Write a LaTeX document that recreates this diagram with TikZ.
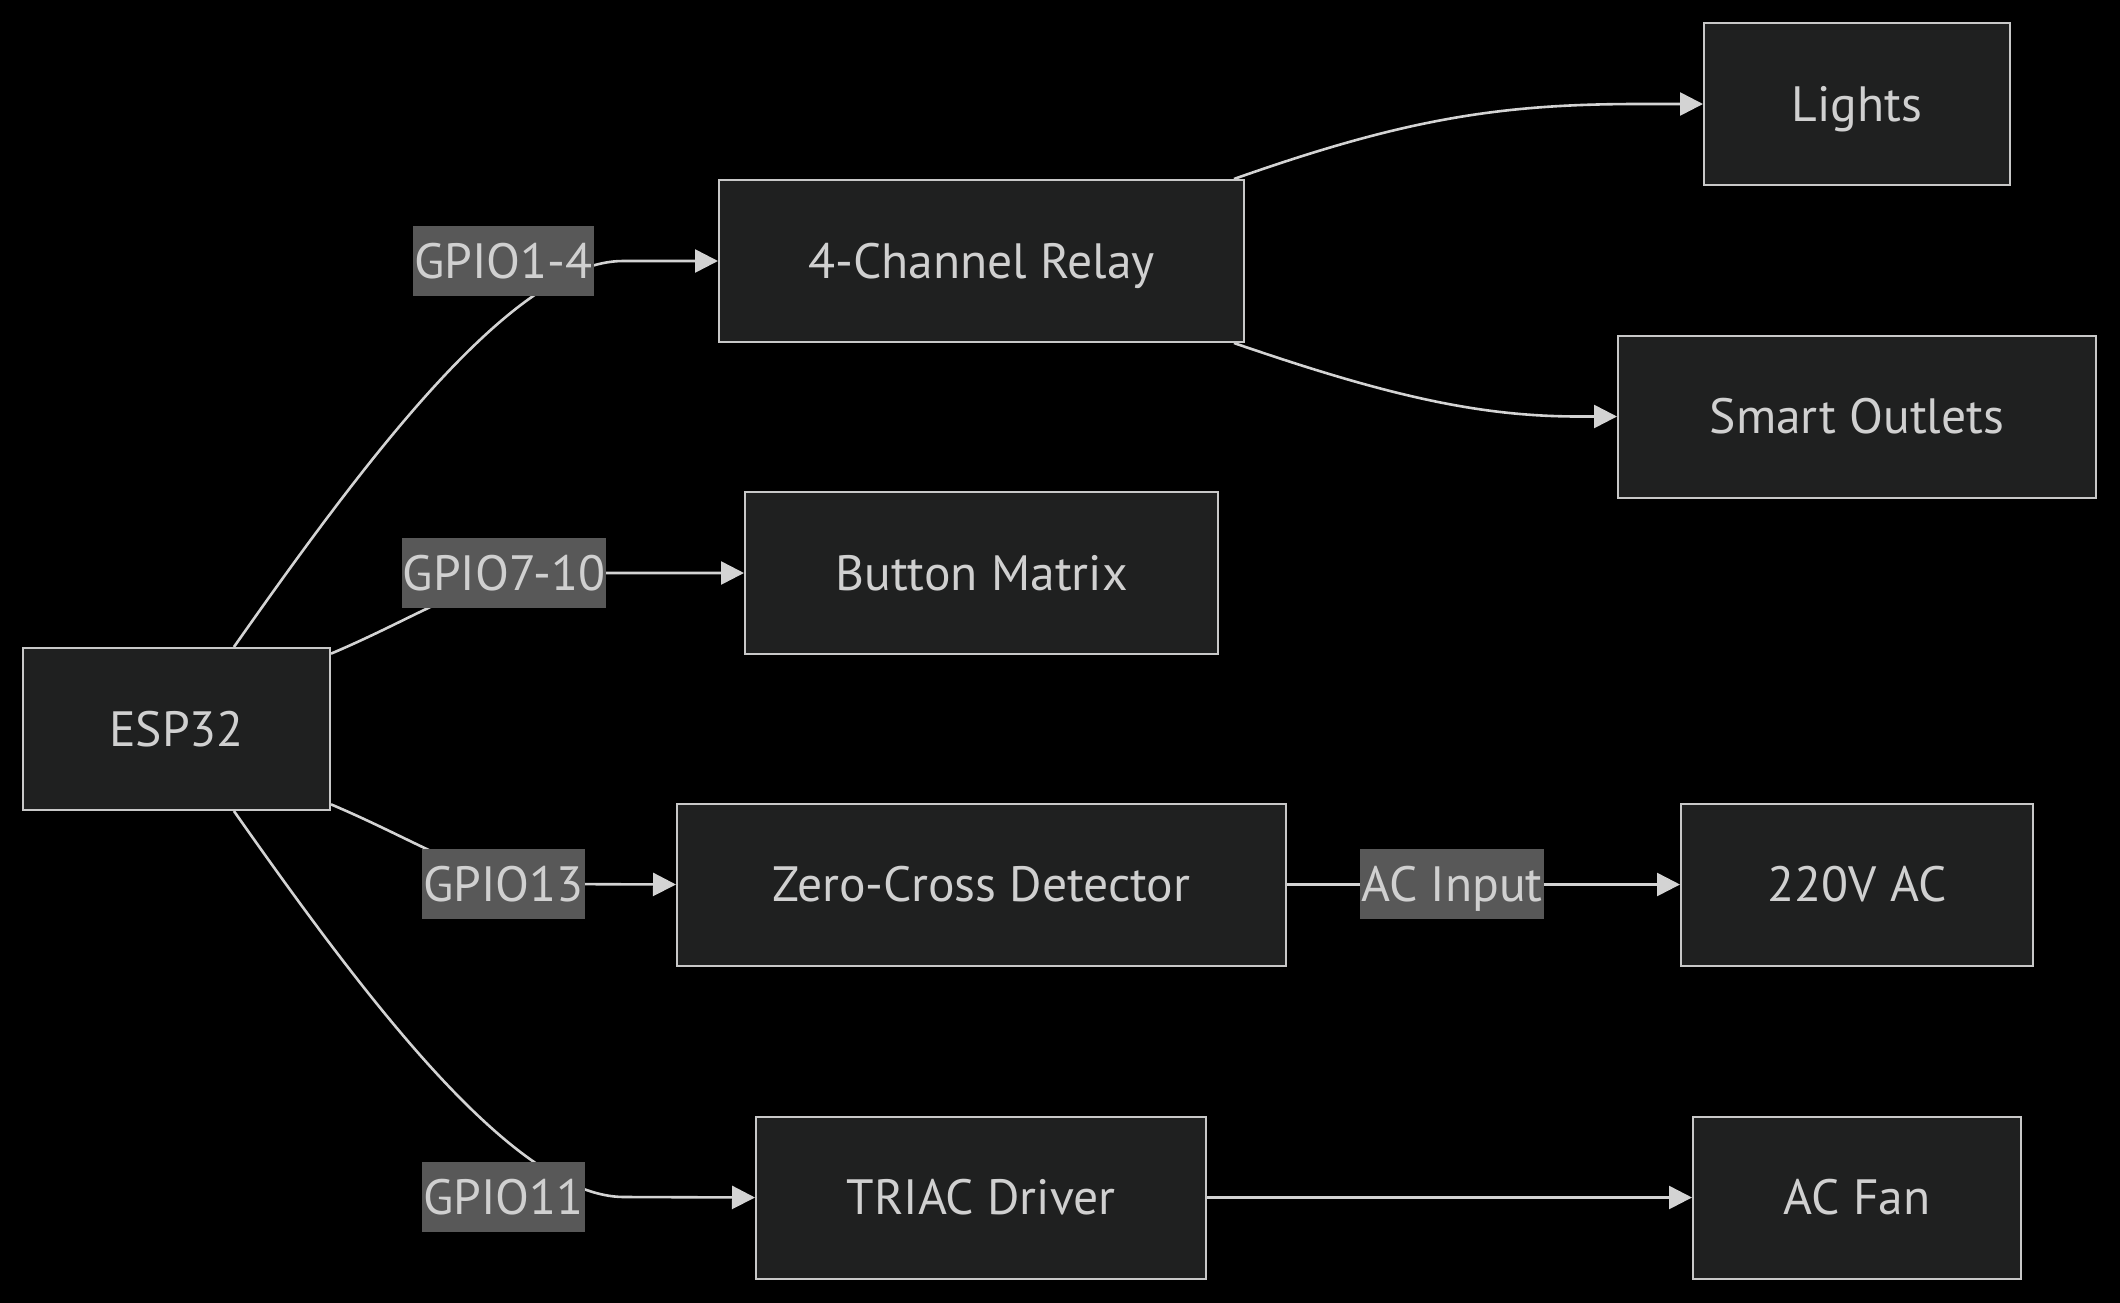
\documentclass[tikz,border=0pt]{standalone}
\usepackage{fontspec}
\setmainfont{PT Sans}
\usetikzlibrary{arrows.meta,calc}
\pgfdeclarelayer{bg}
\pgfdeclarelayer{edges}
\pgfsetlayers{bg,edges,main}
\definecolor{nodefill}{HTML}{1F2020}
\definecolor{nodeline}{HTML}{C8C8C8}
\definecolor{txt}{HTML}{D0D0D0}
\definecolor{lblbg}{HTML}{585858}
\definecolor{edgecol}{HTML}{D3D3D3}
\begin{document}
\begin{tikzpicture}[x=0.5pt,y=-0.5pt,
  box/.style={draw=nodeline, fill=nodefill, line width=1pt, text=txt,
    font=\fontsize{24.8}{28}\selectfont, minimum height=81pt, inner sep=0pt,
    text height=17.4pt, text depth=0pt},
  lbl/.style={fill=lblbg, text=txt, font=\fontsize{24.8}{28}\selectfont,
    minimum height=35pt, inner ysep=0pt, inner xsep=0.5pt,
    text height=17.4pt, text depth=0pt},
  conn/.style={draw=edgecol, line width=1.3pt,
    -{Triangle[length=11.5pt,width=11.5pt]}}]
\useasboundingbox (0,0) rectangle (2120,1302);
\begin{pgfonlayer}{bg}
\fill[black] (-10,-10) rectangle (2130,1312);
\end{pgfonlayer}

% main nodes
\node[box, minimum width=153.5pt] (esp) at (176.5,729) {ESP32};
\node[box, minimum width=262.5pt] (relay) at (981.5,261) {4-Channel Relay};
\node[box, minimum width=153pt] (lights) at (1857,104) {Lights};
\node[box, minimum width=239pt] (outlets) at (1857,416.5) {Smart Outlets};
\node[box, minimum width=236.5pt] (button) at (981.5,573) {Button Matrix};
\node[box, minimum width=304.5pt] (zc) at (981.5,884.5) {Zero-Cross Detector};
\node[box, minimum width=176pt] (ac) at (1857,884.5) {220V AC};
\node[box, minimum width=225pt] (triac) at (981,1197.5) {TRIAC Driver};
\node[box, minimum width=164pt] (fan) at (1857,1197.5) {AC Fan};

% edge labels
\node[lbl] (l1) at (503.5,261) {GPIO1-4};
\node[lbl] (l2) at (504,573) {GPIO7-10};
\node[lbl] (l3) at (503.5,884) {GPIO13};
\node[lbl] (l4) at (503.5,1197) {GPIO11};
\node[lbl] (l5) at (1452,884) {AC Input};

\begin{pgfonlayer}{edges}
\draw[conn] (esp.55) .. controls +(130,-185) and +(-110,0) .. ($(l1.east)+(29,0)$) -- (relay.west);
\draw[conn] (esp.26) .. controls +(90,-38) and +(-70,0) .. ($(l2.center)+(45,0)$) -- (button.west);
\draw[conn] (esp.-26) .. controls +(90,38) and +(-70,0) .. ($(l3.center)+(45,0)$) -- (zc.west);
\draw[conn] (esp.-55) .. controls +(130,185) and +(-110,0) .. ($(l4.east)+(39,0)$) -- (triac.west);
\draw[conn] (relay.18) .. controls +(170,-60) and +(-140,0) .. ($(lights.west)+(-64,0)$) -- (lights.west);
\draw[conn] (relay.-18) .. controls +(154,53) and +(-100,0) .. ($(outlets.west)+(-38,0)$) -- (outlets.west);
\draw[conn] (zc.east) -- (ac.west);
\draw[conn] (triac.east) -- (fan.west);
\end{pgfonlayer}
\end{tikzpicture}
\end{document}
